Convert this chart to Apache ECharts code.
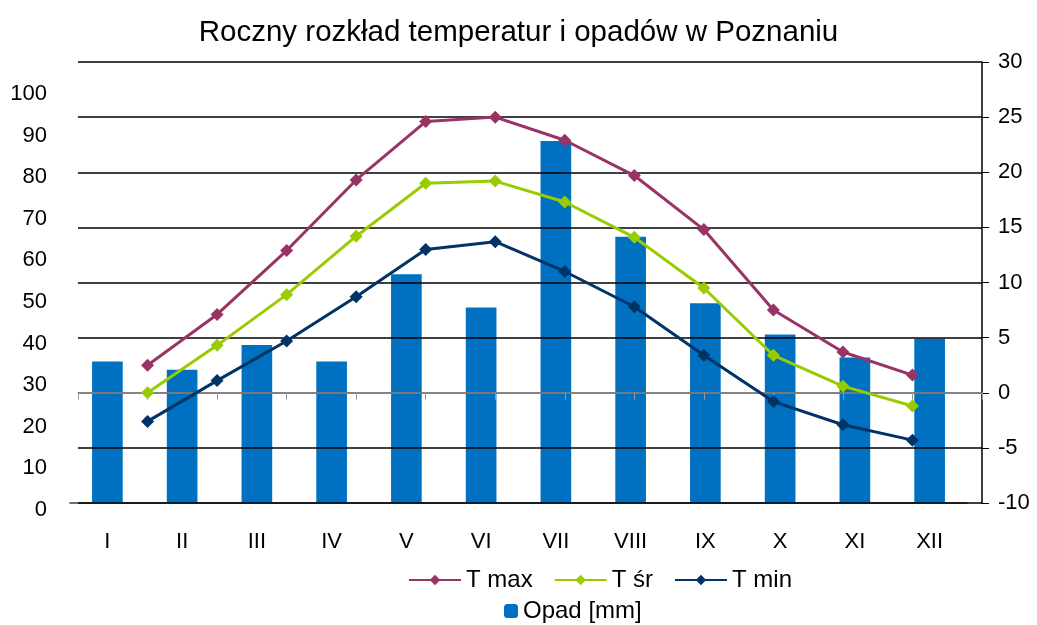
<!DOCTYPE html>
<html>
<head>
<meta charset="utf-8">
<script src="https://cdn.jsdelivr.net/npm/echarts@6/dist/echarts.min.js"></script>
<style>
  html, body { margin: 0; padding: 0; background: #fff; }
  #main { width: 1037px; height: 625px; }
</style>
</head>
<body>
<div id="main"></div>
<script>
// miesiace
const months = ['I', 'II', 'III', 'IV', 'V', 'VI', 'VII', 'VIII', 'IX', 'X', 'XI', 'XII'];
// opad [mm] - lewa os
const opad = [34, 32, 38, 34, 55, 47, 87, 64, 48, 40.5, 35, 39.5];
// temperatury - prawa os
const tMax = [2.5, 7.1, 12.9, 19.3, 24.6, 25.0, 22.9, 19.7, 14.8, 7.5, 3.7, 1.6];
const tSr = [0.0, 4.3, 8.9, 14.2, 19.0, 19.2, 17.3, 14.1, 9.5, 3.4, 0.6, -1.2];
const tMin = [-2.6, 1.1, 4.7, 8.7, 13.0, 13.7, 11.0, 7.8, 3.4, -0.8, -2.9, -4.3];

const font = "'Liberation Sans', Arial, sans-serif";

// druga os kategorii (linie) ma 14 punktow, pierwszy i ostatni pusty
const lineCats = [''].concat(months, ['']);
const pad = (arr) => [null].concat(arr, [null]);

let chart = echarts.init(document.getElementById('main'), null, { renderer: 'canvas' });

const lineSeries = (name, data, color) => ({
        name: name,
        type: 'line',
        xAxisIndex: 1,
        yAxisIndex: 1,
        z: 5,
        symbol: 'diamond',
        symbolSize: 13,
        lineStyle: { width: 3, color: color },
        itemStyle: { color: color },
        data: pad(data)
});

let option = {
        animation: false,
        textStyle: { fontFamily: font },
        title: {
                text: 'Roczny rozkład temperatur i opadów w Poznaniu',
                left: 'center',
                top: 13,
                textStyle: { fontFamily: font, fontSize: 29.5, fontWeight: 'normal', color: '#000' }
        },
        legend: [{
                data: ['T max', 'T śr', 'T min'],
                left: 403,
                top: 563,
                itemWidth: 52,
                itemHeight: 13,
                itemGap: 21,
                textStyle: { fontFamily: font, fontSize: 24, color: '#000' }
        }, {
                data: ['Opad [mm]'],
                left: 499,
                top: 594,
                itemWidth: 14,
                itemHeight: 14,
                itemGap: 6,
                textStyle: { fontFamily: font, fontSize: 24, color: '#000' }
        }],
        grid: [
                { left: 70, right: 70, top: 62, bottom: 122 },
                { left: 78, right: 55, top: 62, bottom: 122 }
        ],
        xAxis: [{
                type: 'category',
                gridIndex: 0,
                data: months,
                axisLine: { lineStyle: { color: '#404040', width: 1.5 } },
                axisTick: { length: 7, lineStyle: { color: '#404040' } },
                axisLabel: { margin: 28, fontSize: 22, color: '#000', fontFamily: font }
        }, {
                type: 'category',
                gridIndex: 1,
                data: lineCats,
                boundaryGap: false,
                z: 4,
                axisLine: { onZero: true, lineStyle: { color: '#999', width: 1.5 } },
                axisTick: { interval: 0, length: 7, lineStyle: { color: '#999' } },
                axisLabel: { show: false }
        }],
        yAxis: [{
                type: 'value',
                gridIndex: 0,
                position: 'left',
                min: 0,
                max: 106,
                interval: 10,
                axisLine: { show: false },
                axisTick: { show: false },
                splitLine: { show: false },
                axisLabel: {
                        margin: 23,
                        fontSize: 22,
                        color: '#000',
                        fontFamily: font,
                        verticalAlign: 'top',
                        lineHeight: 14,
                        formatter: function (v) {
                                return v > 100 ? '' : v;
                        }
                }
        }, {
                type: 'value',
                gridIndex: 1,
                position: 'right',
                min: -10,
                max: 30,
                interval: 5,
                z: 3,
                axisLine: { show: true, lineStyle: { color: '#000', width: 1.5 } },
                axisTick: { show: true, length: 7, lineStyle: { color: '#000' } },
                splitLine: { show: true, lineStyle: { color: '#000', width: 1.5 } },
                axisLabel: { margin: 16, fontSize: 22, color: '#000', fontFamily: font }
        }],
        series: [{
                name: 'Opad [mm]',
                type: 'bar',
                xAxisIndex: 0,
                yAxisIndex: 0,
                barWidth: '41%',
                z: 1,
                itemStyle: { color: '#0070c0' },
                data: opad
        },
        lineSeries('T max', tMax, '#993366'),
        lineSeries('T śr', tSr, '#99cc00'),
        lineSeries('T min', tMin, '#003366')
        ]
};

chart.setOption(option);
</script>
</body>
</html>
